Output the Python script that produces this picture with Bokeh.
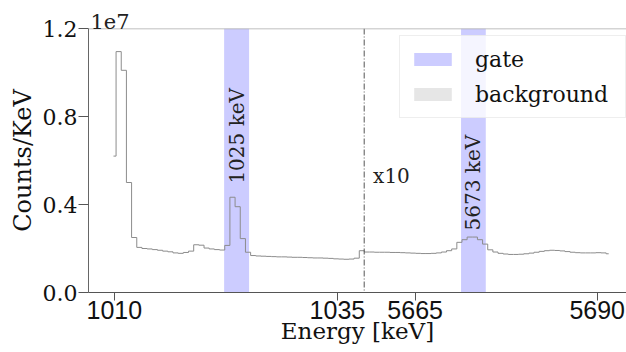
import math
from bokeh.plotting import figure
from bokeh.models import (FixedTicker, Span, Label, Legend, LegendItem,
                          ColumnDataSource, Range1d, Title)
from bokeh.embed import file_html
from bokeh.resources import INLINE
from bokeh.core.properties import value

# ---------------- data ----------------
# left segment (around 1025 keV), bin centres start / width in keV
left_start = 1009.9
left_bin = 0.58
left_counts = [6.2e6, 10.95e6, 10.1e6, 5.0e6, 2.5e6, 2.05e6, 2.0e6, 1.98e6, 1.95e6, 1.92e6,
               1.88e6, 1.85e6, 1.80e6, 1.78e6, 1.82e6, 1.88e6, 2.17e6, 2.15e6, 2.02e6, 1.98e6,
               1.95e6, 1.93e6, 2.14e6, 4.33e6, 3.9e6, 2.45e6, 1.83e6, 1.68e6, 1.66e6, 1.65e6,
               1.64e6, 1.63e6, 1.62e6, 1.62e6, 1.61e6, 1.60e6, 1.60e6, 1.59e6, 1.58e6, 1.57e6,
               1.57e6, 1.56e6, 1.55e6, 1.53e6, 1.52e6, 1.51e6, 1.52e6, 1.56e6, 1.90e6]
# right segment (around 5673 keV), shown x10
right_start = 5658.35
right_bin = 0.707
right_counts = [1.84e6, 1.84e6, 1.83e6, 1.83e6, 1.83e6, 1.82e6, 1.82e6, 1.81e6, 1.80e6, 1.79e6,
                1.78e6, 1.77e6, 1.77e6, 1.78e6, 1.80e6, 1.84e6, 1.90e6, 1.98e6, 2.28e6, 2.40e6,
                2.52e6, 2.52e6, 2.40e6, 2.20e6, 1.94e6, 1.84e6, 1.78e6, 1.75e6, 1.73e6, 1.73e6,
                1.74e6, 1.76e6, 1.79e6, 1.83e6, 1.87e6, 1.90e6, 1.92e6, 1.91e6, 1.89e6, 1.86e6,
                1.83e6, 1.81e6, 1.80e6, 1.80e6, 1.80e6, 1.81e6, 1.80e6, 1.76e6]

gate_lo = [1022.3, 5671.3]
gate_hi = [1025.1, 5674.7]
gate_labels = ["1025 keV", "5673 keV"]
# background windows: none inside the shown ranges
bg_lo = [float("nan")]
bg_hi = [float("nan")]

x_ticks = [1010, 1035, 5665, 5690]
x_tick_labels = ["1010", "1035", "5665", "5690"]
y_ticks = [0, 4e6, 8e6, 1.2e7]
y_tick_labels = ["0.0", "0.4", "0.8", "1.2"]

# broken x axis: left part in keV, right part compressed after the break
break_left = 1038.0
break_right = 5658.0
right_scale = 7.28 / 8.92


def to_u(e):
    return e if e < 3000 else break_left + (e - break_right) * right_scale


left_x = [left_start + left_bin * i for i in range(len(left_counts))]
right_x = [right_start + right_bin * j for j in range(len(right_counts))]
step_u = [to_u(e) for e in left_x + right_x]
step_y = left_counts + right_counts

serif = "'DejaVu Serif', serif"
sans = "'Liberation Sans', Arial, sans-serif"

# ---------------- figure ----------------
p = figure(width=626, height=352, output_backend="svg", toolbar_location=None,
           x_range=Range1d(1007.1, 1067.4), y_range=Range1d(0, 1.2e7),
           min_border_left=88, min_border_right=0, min_border_top=28, min_border_bottom=60)
p.background_fill_color = "white"
p.border_fill_color = "white"
p.outline_line_color = None
p.grid.visible = False

p.title = Title(text="1e7", text_font=serif, text_font_size="21px",
                text_font_style="normal", text_color="#222222", align="left",
                offset=2, standoff=0)

gate_src = ColumnDataSource(dict(left=[to_u(v) for v in gate_lo],
                                 right=[to_u(v) for v in gate_hi],
                                 bottom=[0] * len(gate_lo), top=[1.2e7] * len(gate_lo)))
gate_r = p.quad(left="left", right="right", bottom="bottom", top="top", source=gate_src,
                fill_color="blue", fill_alpha=0.2, line_color=None)
bg_src = ColumnDataSource(dict(left=bg_lo, right=bg_hi,
                               bottom=[0] * len(bg_lo), top=[1.2e7] * len(bg_lo)))
bg_r = p.quad(left="left", right="right", bottom="bottom", top="top", source=bg_src,
              fill_color="gray", fill_alpha=0.2, line_color=None)

p.step(step_u, step_y, mode="center", line_color="#8c8c8c", line_width=1)

p.add_layout(Span(location=break_left, dimension="height", line_color="#555555",
                  line_dash="6 2 1 2", line_width=1))
p.add_layout(Span(location=1.2e7, dimension="width", line_color="#aaaaaa", line_width=1.5))

# gate labels (rotated)
lab_src = ColumnDataSource(dict(x=[(to_u(a) + to_u(b)) / 2 for a, b in zip(gate_lo, gate_hi)],
                                y=[4.95e6, 2.82e6], text=gate_labels))
p.text(x="x", y="y", text="text", source=lab_src, angle=math.pi / 2,
       text_align="left", text_baseline="middle", text_font=value(serif),
       text_font_size="20px", text_color="#222222")

p.add_layout(Label(x=break_left + 1.0, y=5.3e6, text="x10", text_font=serif,
                   text_font_size="20px", text_baseline="middle", text_color="#222222"))

# axes
xa = p.xaxis[0]
xa.ticker = FixedTicker(ticks=[to_u(t) for t in x_ticks])
xa.major_label_overrides = {to_u(t): l for t, l in zip(x_ticks, x_tick_labels)}
xa.major_label_text_font = sans
xa.major_label_text_font_size = "25px"
xa.major_label_text_color = "#111111"
xa.major_tick_in = 0
xa.major_tick_out = 8
xa.minor_tick_line_color = None
xa.major_label_standoff = 0
xa.axis_line_color = "#555555"
xa.major_tick_line_color = "#555555"
xa.axis_label = "Energy [keV]"
xa.axis_label_text_font = serif
xa.axis_label_text_font_size = "23px"
xa.axis_label_text_font_style = "normal"
xa.axis_label_text_color = "#111111"
xa.axis_label_standoff = -4

ya = p.yaxis[0]
ya.ticker = FixedTicker(ticks=y_ticks)
ya.major_label_overrides = {t: l for t, l in zip(y_ticks, y_tick_labels)}
ya.major_label_text_font = serif
ya.major_label_text_font_size = "22px"
ya.major_label_text_color = "#111111"
ya.major_tick_in = 0
ya.major_tick_out = 10
ya.minor_tick_line_color = None
ya.major_label_standoff = 1
ya.axis_line_color = "#666666"
ya.major_tick_line_color = "#555555"
ya.axis_label = "Counts/KeV"
ya.axis_label_text_font = serif
ya.axis_label_text_font_size = "24px"
ya.axis_label_text_font_style = "normal"
ya.axis_label_text_color = "#111111"
ya.axis_label_standoff = 3

legend = Legend(items=[LegendItem(label="gate", renderers=[gate_r]),
                       LegendItem(label="background", renderers=[bg_r])],
                location=(311, 174), orientation="vertical",
                label_text_font=serif, label_text_font_size="22px", label_text_color="#111111",
                glyph_width=47, glyph_height=16, label_height=28, label_width=141,
                label_standoff=19, padding=9, spacing=7, margin=0,
                border_line_color="#dddddd", border_line_width=1,
                background_fill_color="white", background_fill_alpha=0.8)
p.add_layout(legend, "center")

open("out.html", "w").write(file_html(p, INLINE))
